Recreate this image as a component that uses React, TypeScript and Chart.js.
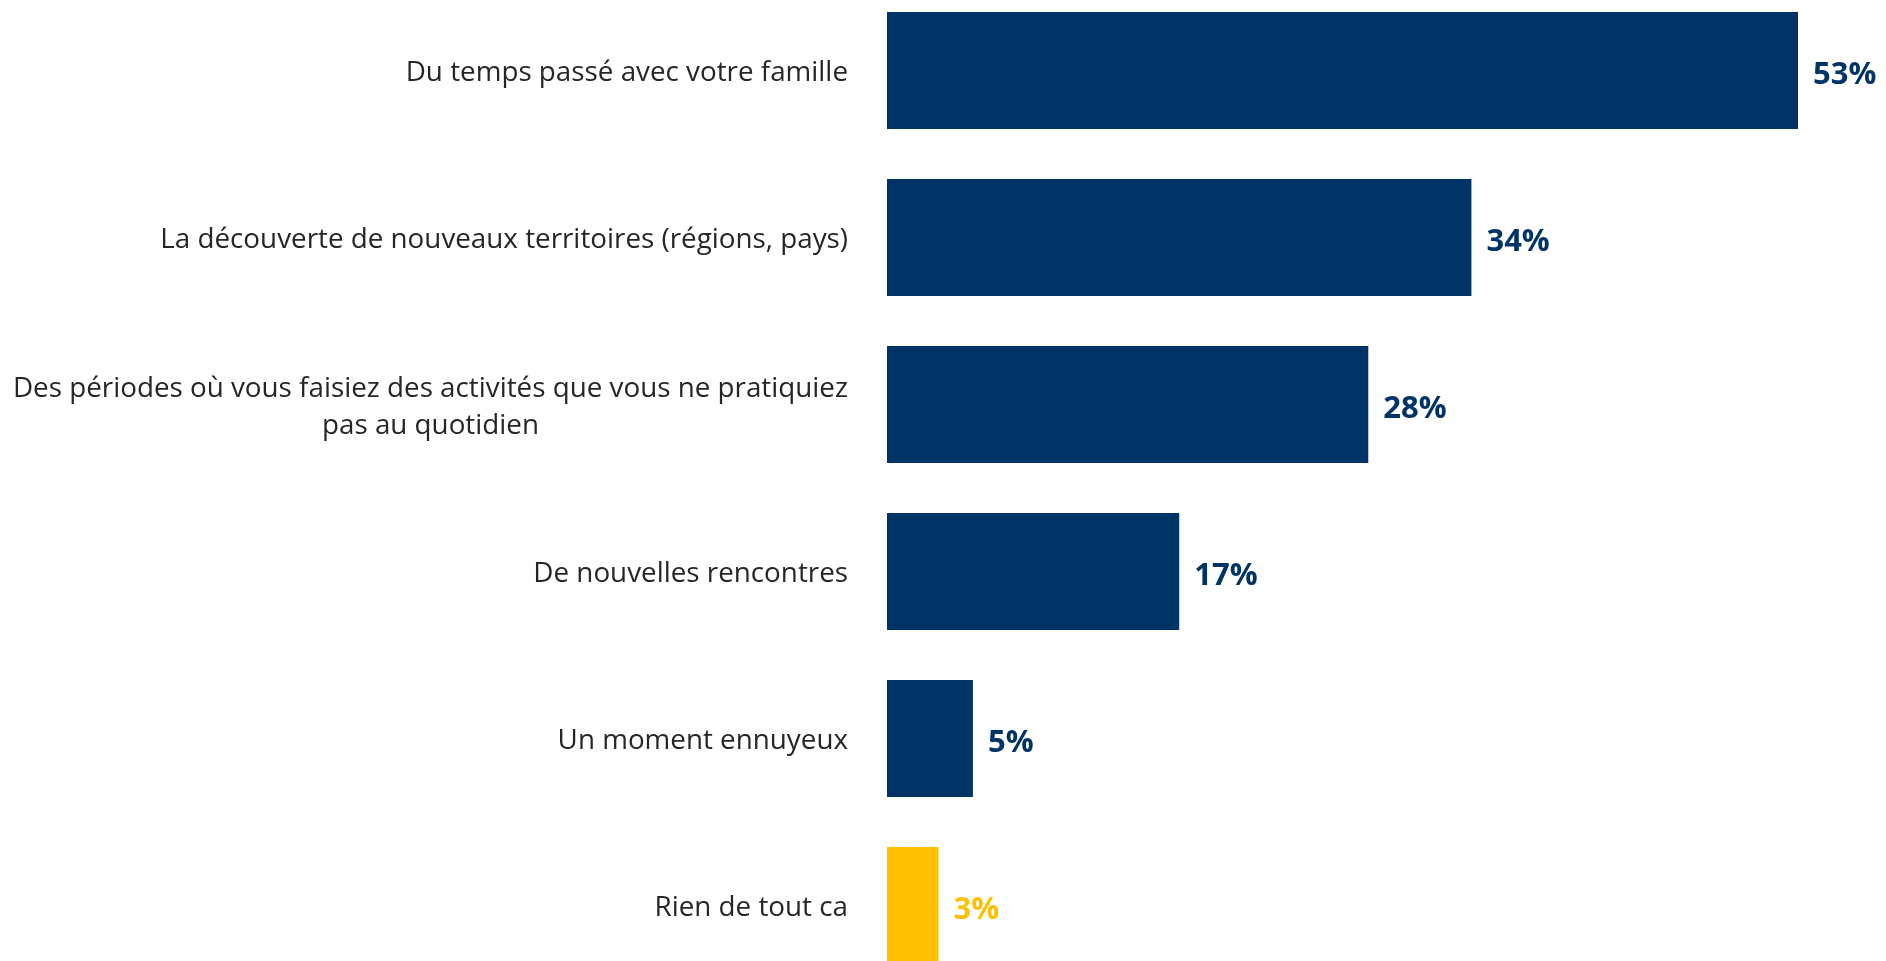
import React, { useEffect, useRef } from "react";
import { Chart, registerables } from "chart.js";

Chart.register(...registerables);

const categories: string[][] = [
  ["Du temps passé avec votre famille"],
  ["La découverte de nouveaux territoires (régions, pays)"],
  ["Des périodes où vous faisiez des activités que vous ne pratiquiez", "pas au quotidien"],
  ["De nouvelles rencontres"],
  ["Un moment ennuyeux"],
  ["Rien de tout ca"],
];
const values: number[] = [53, 34, 28, 17, 5, 3];
const valueLabels: string[] = ["53%", "34%", "28%", "17%", "5%", "3%"];
const barColors: string[] = ["#003366", "#003366", "#003366", "#003366", "#003366", "#FFC000"];

const LABEL_FONT = '27.8px "Open Sans"';
const VALUE_FONT = 'bold 31px "Open Sans"';

const labelPlugin = {
  id: "customLabels",
  afterDraw(chart: any) {
    const ctx = chart.ctx;
    const yScale = chart.scales.y;
    const meta = chart.getDatasetMeta(0);
    ctx.save();
    ctx.font = LABEL_FONT;
    ctx.fillStyle = "#262626";
    ctx.textBaseline = "middle";
    const rightEdge = chart.chartArea.left - 39;
    const lineH = 37;
    categories.forEach((lines, i) => {
      const cy = yScale.getPixelForTick(i) + 3;
      const widths = lines.map((l) => ctx.measureText(l).width);
      const maxW = Math.max(...widths);
      const centerX = rightEdge - maxW / 2;
      ctx.textAlign = "center";
      lines.forEach((l, j) => {
        const y = cy + (j - (lines.length - 1) / 2) * lineH;
        ctx.fillText(l, centerX, y);
      });
    });
    ctx.font = VALUE_FONT;
    ctx.textAlign = "left";
    meta.data.forEach((bar: any, i: number) => {
      ctx.fillStyle = barColors[i];
      ctx.fillText(valueLabels[i], bar.x + 15, bar.y + 5);
    });
    ctx.restore();
  },
};

export default function App() {
  const canvasRef = useRef<HTMLCanvasElement | null>(null);

  useEffect(() => {
    const canvas = canvasRef.current;
    if (!canvas) return;
    const chart = new Chart(canvas, {
      type: "bar",
      data: {
        labels: categories,
        datasets: [
          {
            data: values,
            backgroundColor: barColors,
            borderWidth: 0,
            barPercentage: 0.7,
            categoryPercentage: 1.0,
          },
        ],
      },
      options: {
        indexAxis: "y",
        responsive: false,
        animation: false,
        devicePixelRatio: 1,
        layout: { padding: { left: 0, right: 88, top: 0, bottom: 0 } },
        plugins: {
          legend: { display: false },
          tooltip: { enabled: false },
        },
        scales: {
          x: {
            display: false,
            min: 0,
            max: 53,
          },
          y: {
            grid: { display: false },
            border: { display: false },
            ticks: { display: false },
            afterFit(scale: any) {
              scale.width = 887;
            },
          },
        },
      },
      plugins: [labelPlugin],
    });
    return () => chart.destroy();
  }, []);

  return (
    <div
      style={{
        position: "fixed",
        left: 0,
        top: 0,
        width: 1886,
        height: 961,
        overflow: "hidden",
        background: "#ffffff",
      }}
    >
      <div style={{ position: "absolute", left: 0, top: -13, width: 1886, height: 1002 }}>
        <canvas ref={canvasRef} width={1886} height={1002} style={{ width: 1886, height: 1002 }} />
      </div>
    </div>
  );
}
